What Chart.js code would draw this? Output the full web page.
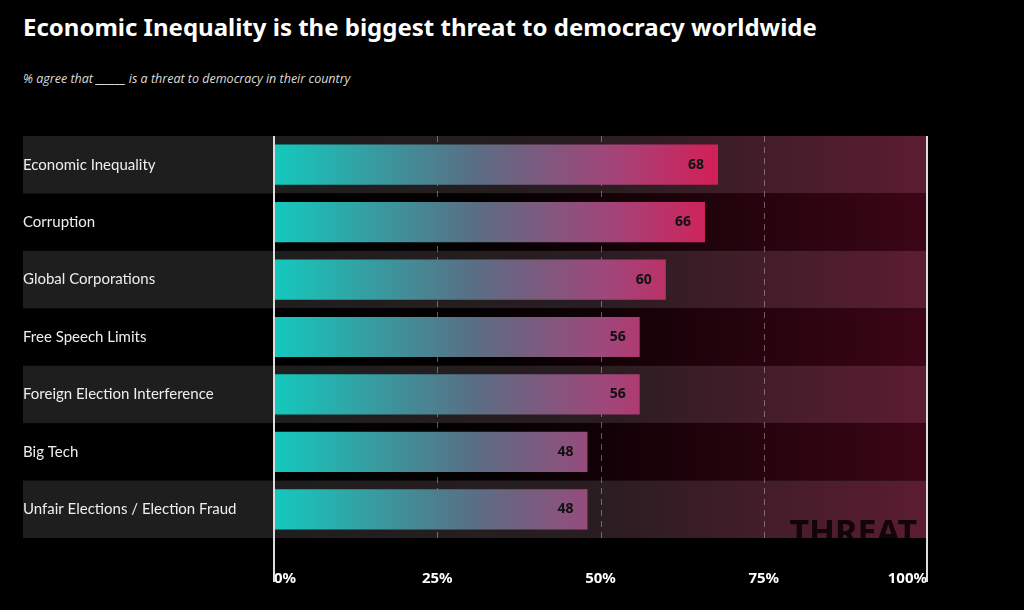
<!DOCTYPE html>
<html><head><meta charset="utf-8">
<script src="https://cdn.jsdelivr.net/npm/chart.js@4"></script>
<style>
body{margin:0;background:#000;width:1024px;height:610px;overflow:hidden;font-family:Lato,"Noto Sans",sans-serif}
#t{position:absolute;left:23px;top:10px;color:#fff;font-weight:700;font-size:24px;font-family:"Noto Sans",sans-serif}
#s{position:absolute;left:23px;top:70px;color:#ddd;font-style:italic;font-size:12.5px;font-family:"Open Sans",sans-serif}
canvas{position:absolute;left:0;top:0}
</style></head><body>
<div id="t">Economic Inequality is the biggest threat to democracy worldwide</div>
<div id="s">% agree that ______ is a threat to democracy in their country</div>
<canvas id="c" width="1024" height="610"></canvas>
<script>
const categories=["Economic Inequality","Corruption","Global Corporations","Free Speech Limits","Foreign Election Interference","Big Tech","Unfair Elections / Election Fraud"];
const values=[68,66,60,56,56,48,48];
const tickLabels={0:"0%",25:"25%",50:"50%",75:"75%",100:"100%"};

const bg={id:'bg',beforeDatasetsDraw(ch){
  const {ctx,chartArea:a,scales:{x,y}}=ch;
  const h=(a.bottom-a.top)/categories.length;
  ctx.save();
  categories.forEach((c,i)=>{
    const t=a.top+i*h;
    let g=ctx.createLinearGradient(a.left,0,a.right,0);
    if(i%2===0){
      ctx.fillStyle='#1e1e1e';ctx.fillRect(23,t,a.left-23,h);
      g.addColorStop(0,'#1e1e1e');g.addColorStop(0.5,'#2a1d21');g.addColorStop(1,'#5c1c33');
    }else{
      g.addColorStop(0,'#000');g.addColorStop(0.35,'#050001');g.addColorStop(1,'#3c0616');
    }
    ctx.fillStyle=g;ctx.fillRect(a.left,t,a.right-a.left,h);
    ctx.fillStyle='#eee';ctx.font='15px Lato, "Noto Sans", sans-serif';ctx.textBaseline='middle';
    ctx.fillText(c,23,t+h/2);
  });
  ctx.strokeStyle='rgba(255,255,255,0.35)';ctx.lineWidth=1;ctx.setLineDash([6,5]);
  [25,50,75].forEach(v=>{const px=Math.round(x.getPixelForValue(v))+0.5;ctx.beginPath();ctx.moveTo(px,a.top);ctx.lineTo(px,a.bottom);ctx.stroke();});
  ctx.setLineDash([]);
  ctx.save();ctx.beginPath();ctx.rect(a.left,a.top,a.right-a.left,a.bottom-a.top);ctx.clip();
  ctx.fillStyle='#120508';ctx.font='bold 34px "Noto Sans", sans-serif';ctx.textAlign='right';ctx.textBaseline='alphabetic';
  ctx.fillText('THREAT',x.getPixelForValue(98.5),a.bottom+6);ctx.restore();
  ctx.restore();
},afterDatasetsDraw(ch){
  const {ctx,chartArea:a,scales:{x,y}}=ch;
  ctx.save();
  ctx.strokeStyle='#ddd';ctx.lineWidth=2;
  [0,100].forEach(v=>{const px=x.getPixelForValue(v);ctx.beginPath();ctx.moveTo(px,a.top);ctx.lineTo(px,a.bottom+44);ctx.stroke();});
  ctx.fillStyle='#111';ctx.font='bold 14px "Noto Sans", sans-serif';ctx.textAlign='right';ctx.textBaseline='middle';
  values.forEach((v,i)=>ctx.fillText(String(v),x.getPixelForValue(v)-14,y.getPixelForValue(i)));
  ctx.restore();
}};

new Chart(document.getElementById('c'),{type:'bar',
 data:{labels:categories,datasets:[{data:values,borderWidth:0,barPercentage:0.7,categoryPercentage:1,
  backgroundColor(c){const ch=c.chart,a=ch.chartArea;if(!a)return '#1ec8c0';
   const x=ch.scales.x;const g=ch.ctx.createLinearGradient(x.getPixelForValue(0),0,x.getPixelForValue(68),0);
   g.addColorStop(0,'#14c9bd');g.addColorStop(0.45,'#5a6e84');g.addColorStop(0.75,'#a0467a');g.addColorStop(1,'#d41f57');return g;}}]},
 options:{indexAxis:'y',responsive:false,animation:false,
  layout:{padding:{left:274,right:97,top:136,bottom:-10}},
  plugins:{legend:{display:false},tooltip:{enabled:false}},
  scales:{y:{display:false},
   x:{min:0,max:100,border:{display:false},grid:{display:false,drawTicks:false},
    ticks:{stepSize:25,align:'inner',padding:32,color:'#fff',font:{size:15,weight:'bold',family:'"Noto Sans", sans-serif'},callback:v=>tickLabels[v]}}}},
 plugins:[bg]});
</script></body></html>
